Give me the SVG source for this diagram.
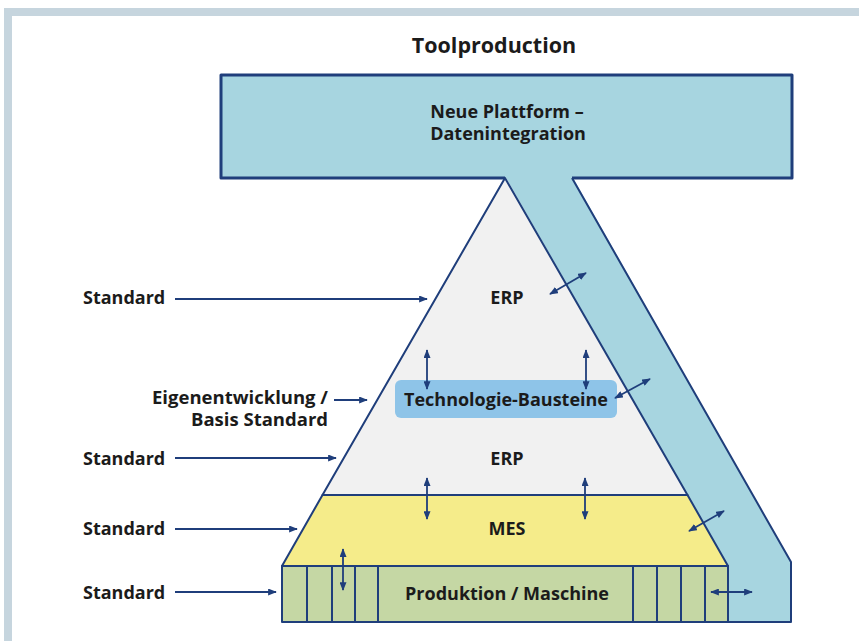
<svg xmlns="http://www.w3.org/2000/svg" width="859" height="641" viewBox="0 0 859 641">
<defs>
<style>
.t{font-family:"Open Sans","Liberation Sans",sans-serif;font-weight:700;fill:#1b1b1b;font-size:18px}
.c{text-anchor:middle}
.e{text-anchor:end}
.ln{stroke:#1f3e7b;stroke-width:2;stroke-linejoin:round}
.nf{fill:none}
.ar{stroke:#1f3e7b;stroke-width:1.8;fill:none;marker-end:url(#ah)}
.da{stroke:#1f3e7b;stroke-width:1.8;fill:none;marker-end:url(#ah);marker-start:url(#ah)}
</style>
<marker id="ah" viewBox="0 0 10 8" refX="9" refY="4" markerWidth="9" markerHeight="7" markerUnits="userSpaceOnUse" orient="auto-start-reverse">
<path d="M0,0 L10,4 L0,8 Z" fill="#1f3e7b"/>
</marker>
</defs>
<rect x="0" y="0" width="859" height="641" fill="#ffffff"/>
<g id="frame">
<rect x="4" y="8" width="855" height="8" fill="#c6d5de"/>
<rect x="4" y="8" width="8" height="633" fill="#c6d5de"/>
</g>
<g id="title"><text class="t c" x="494" y="53" style="font-size:21.5px">Toolproduction</text></g>
<g id="band">
<polygon points="505,176 572,176 791,562 791,622 728,622 728,566" fill="#a7d5e0"/>
<polyline class="ln nf" points="572,178 791,562 791,622 728,622"/>
</g>
<g id="platform">
<path d="M505,178 L221,178 L221,75 L792,75 L792,178 L572,178" fill="#a7d5e0" stroke="#1f3e7b" stroke-width="3" stroke-linejoin="round"/>
<text class="t c" y="118"><tspan x="507">Neue Plattform –</tspan><tspan x="508" y="140">Datenintegration</tspan></text>
</g>
<g id="erp">
<polygon points="505,178 322.5,495 687.5,495" style="fill:#f1f1f1" class="ln"/>
<text class="t c" x="507" y="304">ERP</text>
<text class="t c" x="507" y="465">ERP</text>
</g>
<g id="technologie">
<rect x="395" y="380" width="222" height="38" rx="6" fill="#8ec4e8"/>
<text class="t c" x="506" y="406">Technologie-Bausteine</text>
</g>
<g id="mes">
<polygon points="322.5,495 687.5,495 728,566 282,566" style="fill:#f5ec8a" class="ln"/>
<text class="t c" x="507" y="535">MES</text>
</g>
<g id="produktion">
<rect x="282" y="566" width="446" height="56" style="fill:#c5d7a4" class="ln"/>
<path class="ln nf" d="M307,566V622M332,566V622M355,566V622M378,566V622M633,566V622M657,566V622M681,566V622M705,566V622"/>
<text class="t c" x="507" y="600">Produktion / Maschine</text>
</g>
<g id="labels">
<text class="t" x="83" y="304">Standard</text>
<text class="t e" y="404" style="font-size:18.5px"><tspan x="328">Eigenentwicklung /</tspan><tspan x="328" y="426">Basis Standard</tspan></text>
<text class="t" x="83" y="465">Standard</text>
<text class="t" x="83" y="535">Standard</text>
<text class="t" x="83" y="599">Standard</text>
</g>
<g id="connectors">
<line class="ar" x1="175" y1="299" x2="427" y2="299"/>
<line class="ar" x1="334" y1="400" x2="367" y2="400"/>
<line class="ar" x1="175" y1="458" x2="336" y2="458"/>
<line class="ar" x1="175" y1="529" x2="297" y2="529"/>
<line class="ar" x1="175" y1="592" x2="276" y2="592"/>
<line class="da" x1="427" y1="350" x2="427" y2="389"/>
<line class="da" x1="586" y1="350" x2="586" y2="389"/>
<line class="da" x1="427" y1="478" x2="427" y2="519"/>
<line class="da" x1="585" y1="478" x2="585" y2="519"/>
<line class="da" x1="343" y1="549" x2="343" y2="590"/>
<line class="da" x1="550" y1="294" x2="586" y2="273"/>
<line class="da" x1="615" y1="398" x2="650" y2="379"/>
<line class="da" x1="689" y1="531" x2="724" y2="511"/>
<line class="da" x1="711" y1="592" x2="752" y2="592"/>
</g>
</svg>
